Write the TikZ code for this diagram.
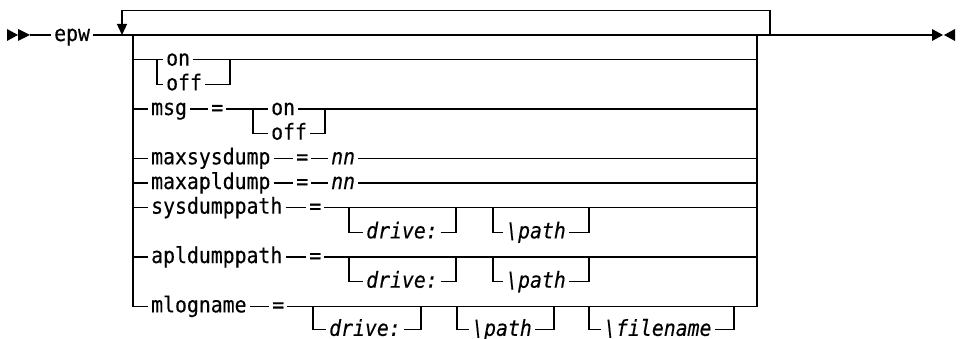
\documentclass[tikz,border=0pt]{standalone}
\usepackage{fontspec}
\setmonofont{DejaVu Sans Mono}[FakeStretch=0.9,FakeBold=0.3]
\usepackage{tikz}
\usetikzlibrary{arrows.meta}
\newcommand\railfont{\ttfamily\fontsize{22pt}{25pt}\selectfont}
\tikzset{
  rail/.style={draw=black,line width=1.3pt},
  loopback/.style={rail,-{Triangle[length=11pt,width=10pt]}},
  kw/.style={
    anchor=west,font=\railfont,inner xsep=3pt,inner ysep=0pt,
    text height=12.8pt,text depth=0.8pt
  },
  var/.style={kw,font=\railfont\itshape}
}
\begin{document}
\begin{tikzpicture}[x=1pt,y=-24.67pt]
\useasboundingbox (0pt,35pt) rectangle (961pt,-304pt);
\coordinate (start) at (30,0);
\coordinate (stop) at (932,0);
\coordinate (jL) at (133,0);
\coordinate (jR) at (757,0);
\coordinate (backL) at (122,0);
\coordinate (backR) at (770,0);
\coordinate (backtop) at (122,-1);

% start and end marks
\fill (7pt,6pt) -- (18pt,0pt) -- (7pt,-6pt) -- cycle;
\fill (18pt,6pt) -- (30pt,0pt) -- (18pt,-6pt) -- cycle;
\fill (932pt,6pt) -- (943pt,0pt) -- (932pt,-6pt) -- cycle;
\fill (955pt,6pt) -- (944pt,0pt) -- (955pt,-6pt) -- cycle;

\node[kw] (epw) at (51,0) {epw};
\draw[rail] (start) -- (epw.west);
\draw[rail] (epw.east) -- (stop);
\draw[loopback] (backR) -- (backR |- backtop) -- (backtop) -- (backL);

% on / off
\node[kw] (on1) at (163,1) {on};
\node[kw] (off1) at (163,2) {off};
\coordinate (on1L) at (157,1);
\coordinate (on1R) at (230,1);
\draw[rail] (jL |- on1.west) -- (on1.west) (on1.east) -- (jR |- on1.east);
\draw[rail] (on1L) |- (off1.west);
\draw[rail] (off1.east) -| (on1R);

% msg
\node[kw] (msg) at (148,3) {msg};
\node[kw] (eqmsg) at (208,3) {=};
\node[kw] (on2) at (268,3) {on};
\node[kw] (off2) at (268,4) {off};
\coordinate (on2L) at (253,3);
\coordinate (on2R) at (325,3);
\draw[rail] (jL |- msg.west) -- (msg.west) (msg.east) -- (eqmsg.west)
  (eqmsg.east) -- (on2.west) (on2.east) -- (jR |- on2.east);
\draw[rail] (on2L) |- (off2.west);
\draw[rail] (off2.east) -| (on2R);

% maxsysdump / maxapldump
\node[kw] (maxsys) at (148,5) {maxsysdump};
\node[kw] (eqsys) at (293,5) {=};
\node[var] (nnsys) at (328,5) {nn};
\draw[rail] (jL |- maxsys.west) -- (maxsys.west) (maxsys.east) -- (eqsys.west)
  (eqsys.east) -- (nnsys.west) (nnsys.east) -- (jR |- nnsys.east);
\node[kw] (maxapl) at (148,6) {maxapldump};
\node[kw] (eqapl) at (293,6) {=};
\node[var] (nnapl) at (328,6) {nn};
\draw[rail] (jL |- maxapl.west) -- (maxapl.west) (maxapl.east) -- (eqapl.west)
  (eqapl.east) -- (nnapl.west) (nnapl.east) -- (jR |- nnapl.east);

% sysdumppath
\node[kw] (sysdump) at (148,7) {sysdumppath};
\node[kw] (eqsd) at (306,7) {=};
\draw[rail] (jL |- sysdump.west) -- (sysdump.west) (sysdump.east) -- (eqsd.west)
  (eqsd.east) -- (jR |- eqsd.east);
\node[var] (sddrive) at (363,8) {drive:};
\node[var] (sdpath) at (503,8) {\textbackslash path};
\coordinate (sddriveL) at (349,7);
\coordinate (sddriveR) at (456,7);
\coordinate (sdpathL) at (493,7);
\coordinate (sdpathR) at (589,7);
\draw[rail] (sddriveL) |- (sddrive.west);
\draw[rail] (sddrive.east) -| (sddriveR);
\draw[rail] (sdpathL) |- (sdpath.west);
\draw[rail] (sdpath.east) -| (sdpathR);

% apldumppath
\node[kw] (apldump) at (148,9) {apldumppath};
\node[kw] (eqad) at (306,9) {=};
\draw[rail] (jL |- apldump.west) -- (apldump.west) (apldump.east) -- (eqad.west)
  (eqad.east) -- (jR |- eqad.east);
\node[var] (addrive) at (363,10) {drive:};
\node[var] (adpath) at (503,10) {\textbackslash path};
\coordinate (addriveL) at (349,9);
\coordinate (addriveR) at (456,9);
\coordinate (adpathL) at (493,9);
\coordinate (adpathR) at (589,9);
\draw[rail] (addriveL) |- (addrive.west);
\draw[rail] (addrive.east) -| (addriveR);
\draw[rail] (adpathL) |- (adpath.west);
\draw[rail] (adpath.east) -| (adpathR);

% mlogname
\node[kw] (mlog) at (148,11) {mlogname};
\node[kw] (eqml) at (269,11) {=};
\draw[rail] (jL) |- (mlog.west);
\draw[rail] (mlog.east) -- (eqml.west);
\draw[rail] (eqml.east) -| (jR);
\node[var] (mldrive) at (326,11.95) {drive:};
\node[var] (mlpath) at (469,11.95) {\textbackslash path};
\node[var] (mlfile) at (601,11.95) {\textbackslash filename};
\coordinate (mldriveL) at (313,11);
\coordinate (mldriveR) at (421,11);
\coordinate (mlpathL) at (457,11);
\coordinate (mlpathR) at (554,11);
\coordinate (mlfileL) at (589,11);
\coordinate (mlfileR) at (734,11);
\draw[rail] (mldriveL) |- (mldrive.west);
\draw[rail] (mldrive.east) -| (mldriveR);
\draw[rail] (mlpathL) |- (mlpath.west);
\draw[rail] (mlpath.east) -| (mlpathR);
\draw[rail] (mlfileL) |- (mlfile.west);
\draw[rail] (mlfile.east) -| (mlfileR);
\end{tikzpicture}
\end{document}
